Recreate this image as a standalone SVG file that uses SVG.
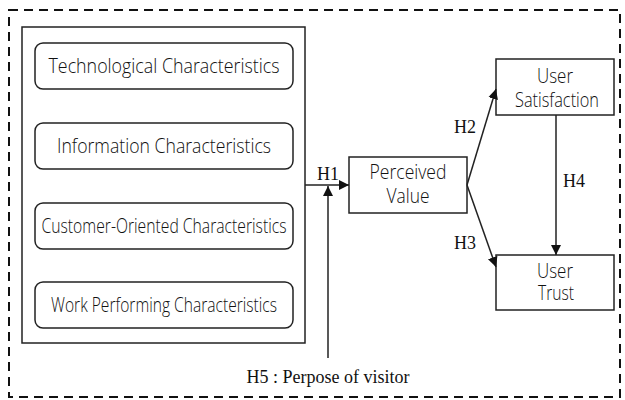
<svg xmlns="http://www.w3.org/2000/svg" width="625" height="400" viewBox="0 0 625 400">
<defs>
<style>
.box{fill:#fff;stroke:#222;stroke-width:1.5}
.sans{font-family:"Open Sans","Noto Sans",sans-serif;font-size:20px;font-weight:300;fill:#111;text-anchor:middle}
.ser{font-family:"Liberation Serif","Times New Roman",serif;font-size:18px;fill:#111;text-anchor:middle}
.line{stroke:#222;stroke-width:1.5;fill:none}
</style>
<marker id="ah" viewBox="0 0 10 10" refX="10" refY="5" markerWidth="10" markerHeight="10" markerUnits="userSpaceOnUse" orient="auto">
<path d="M0,0 L10,5 L0,10 z" fill="#111"/>
</marker>
</defs>
<rect x="9" y="10" width="611" height="387" fill="none" stroke="#111" stroke-width="2" stroke-dasharray="9,6"/>
<g id="characteristics">
<rect class="box" x="22" y="27" width="283" height="316"/>
<g id="tech"><rect class="box" x="35" y="43" width="258" height="46" rx="8"/><text class="sans" x="164" y="73" textLength="231" lengthAdjust="spacingAndGlyphs">Technological Characteristics</text></g>
<g id="info"><rect class="box" x="35" y="123" width="258" height="46" rx="8"/><text class="sans" x="164" y="153" textLength="214" lengthAdjust="spacingAndGlyphs">Information Characteristics</text></g>
<g id="cust"><rect class="box" x="35" y="203" width="258" height="46" rx="8"/><text class="sans" x="164" y="233" textLength="245" lengthAdjust="spacingAndGlyphs">Customer-Oriented Characteristics</text></g>
<g id="work"><rect class="box" x="35" y="282" width="258" height="46" rx="8"/><text class="sans" x="164" y="312" textLength="226" lengthAdjust="spacingAndGlyphs">Work Performing Characteristics</text></g>
</g>
<g id="perceived"><rect class="box" x="349" y="157" width="118" height="56"/><text class="sans" x="408" y="179" textLength="77" lengthAdjust="spacingAndGlyphs">Perceived</text><text class="sans" x="408" y="203" textLength="43" lengthAdjust="spacingAndGlyphs">Value</text></g>
<g id="satisfaction"><rect class="box" x="496" y="59" width="118" height="56"/><text class="sans" x="555" y="83" textLength="36" lengthAdjust="spacingAndGlyphs">User</text><text class="sans" x="557" y="107" textLength="84" lengthAdjust="spacingAndGlyphs">Satisfaction</text></g>
<g id="trust"><rect class="box" x="496" y="255" width="118" height="55"/><text class="sans" x="555" y="278" textLength="36" lengthAdjust="spacingAndGlyphs">User</text><text class="sans" x="556" y="300" textLength="36" lengthAdjust="spacingAndGlyphs">Trust</text></g>
<g id="connectors">
<line class="line" x1="305" y1="185" x2="349" y2="185" marker-end="url(#ah)"/>
<line class="line" x1="328" y1="358" x2="328" y2="186" marker-end="url(#ah)"/>
<line class="line" x1="467" y1="185" x2="496" y2="89" marker-end="url(#ah)"/>
<line class="line" x1="467" y1="185" x2="496" y2="267" marker-end="url(#ah)"/>
<line class="line" x1="556" y1="115" x2="556" y2="255" marker-end="url(#ah)"/>
</g>
<g id="labels">
<text class="ser" x="328" y="180">H1</text>
<text class="ser" x="465" y="133">H2</text>
<text class="ser" x="465" y="249">H3</text>
<text class="ser" x="574" y="187">H4</text>
<text class="ser" x="328" y="383">H5 : Perpose of visitor</text>
</g>
</svg>
